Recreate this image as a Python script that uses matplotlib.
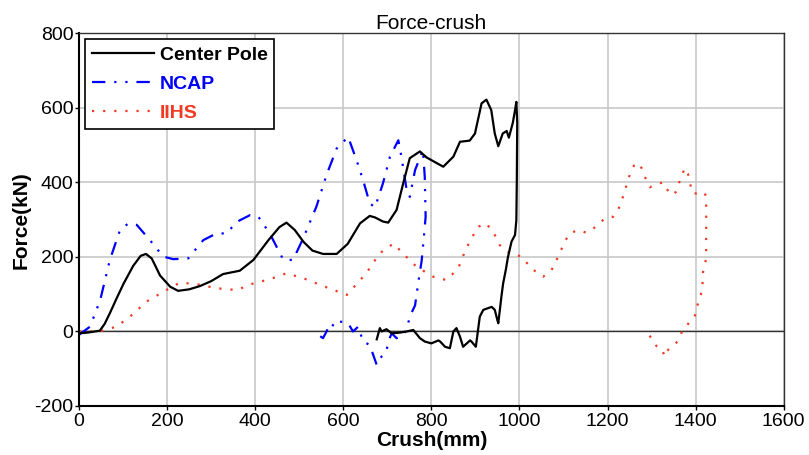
import matplotlib
matplotlib.use("Agg")
import matplotlib.pyplot as plt

plt.rcParams['font.family'] = ['Liberation Sans', 'DejaVu Sans']
plt.rcParams['axes.unicode_minus'] = False

# Center Pole: load path then unloading back down
cp_crush = [0, 20, 47, 58, 70, 85, 101, 123, 140, 152, 165, 184, 207, 225, 250, 275, 300, 327, 365, 396,
            430, 455, 471, 490, 510, 530, 554, 585, 610, 638, 660, 672, 690, 702, 721, 736, 751, 774, 789, 827,
            850, 865, 887, 899, 914, 925, 936, 944, 952, 962, 971, 976, 985, 990, 993, 995, 994, 993, 990, 982,
            974, 969, 963, 959, 952, 950, 944, 937, 918, 910, 905, 901, 891, 888, 872, 865, 857, 850, 842, 831,
            820, 816, 800, 785, 774, 759, 744, 729, 710, 698, 687, 683, 676]
cp_force = [-5, -3, 2, 20, 49, 88, 128, 176, 203, 208, 196, 150, 120, 109, 113, 122, 135, 154, 163, 192,
            245, 280, 292, 272, 240, 217, 208, 208, 235, 290, 310, 306, 295, 292, 326, 397, 465, 483, 467, 442,
            469, 509, 512, 531, 612, 622, 594, 531, 497, 531, 538, 520, 560, 594, 616, 560, 400, 299, 259, 241,
            200, 165, 129, 93, 22, 30, 58, 66, 58, 40, -5, -41, -27, -24, -41, -14, 9, 0, -45, -41,
            -27, -24, -32, -27, -18, 4, 0, -3, -5, 6, 0, 9, -21]

# NCAP
ncap_crush = [0, 25, 48, 70, 93, 112, 131, 161, 191, 214, 248, 282, 312, 335, 358, 388, 407, 433, 464, 486,
              509, 539, 562, 585, 611, 630, 645, 660, 672, 690, 706, 725, 732, 744, 751, 763, 781, 785, 787, 782,
              778, 770, 763, 755, 747, 738, 721, 710, 702, 698, 687, 676, 668, 660, 645, 634, 622, 611, 600, 589,
              581, 570, 562, 554, 543, 532]
ncap_force = [-9, 13, 84, 192, 272, 290, 286, 245, 201, 194, 196, 245, 263, 263, 294, 312, 308, 263, 192, 192,
              250, 335, 420, 491, 522, 460, 406, 344, 333, 397, 469, 513, 469, 379, 361, 433, 487, 415, 308, 240,
              190, 129, 70, 50, 22, -9, -18, -5, -27, -54, -67, -90, -63, -36, -27, 13, 0, 22, 26, 26,
              13, 22, 0, -18, -9, -18]

# IIHS
iihs_crush = [0, 47, 85, 116, 153, 198, 229, 267, 312, 358, 396, 433, 471, 509, 554, 608, 652, 683, 714, 739,
              766, 804, 834, 861, 876, 887, 906, 925, 944, 955, 978, 1005, 1027, 1054, 1073, 1088, 1103, 1114, 1133, 1152,
              1167, 1179, 1194, 1213, 1224, 1232, 1239, 1244, 1251, 1260, 1273, 1280, 1288, 1296, 1311, 1326, 1334, 1345,
              1356, 1361, 1368, 1375, 1383, 1388, 1392, 1402, 1411, 1421, 1424, 1424, 1424, 1424, 1417, 1415, 1408, 1403,
              1398, 1386, 1377, 1368, 1360, 1351, 1335, 1330, 1322, 1311, 1302, 1290]
iihs_force = [0, 0, 13, 40, 80, 111, 131, 127, 116, 111, 129, 140, 156, 143, 122, 98, 156, 210, 236, 205,
              174, 147, 138, 169, 214, 241, 281, 290, 259, 232, 210, 201, 169, 147, 165, 201, 241, 263, 272, 265,
              275, 288, 303, 308, 326, 351, 375, 397, 422, 445, 451, 430, 406, 387, 395, 400, 383, 366,
              375, 395, 415, 438, 422, 395, 372, 370, 370, 372, 357, 308, 245, 196, 160, 111, 86, 65,
              40, 26, 9, -3, -25, -37, -52, -67, -44, -39, -20, -5]

xticks = [0, 200, 400, 600, 800, 1000, 1200, 1400, 1600]
yticks = [-200, 0, 200, 400, 600, 800]

red = '#f03a24'

fig = plt.figure(figsize=(8.09, 4.55), dpi=100)
ax = fig.add_axes([0.0977, 0.1077, 0.871, 0.8191])

ax.grid(True, color='#c8c8c8', lw=1.2)
ax.set_axisbelow(True)
ax.axhline(0, color='#333333', lw=1.0, zorder=1.5)

ax.plot(cp_crush, cp_force, color='black', lw=1.6, label='Center Pole', zorder=3)
ax.plot(ncap_crush, ncap_force, color='blue', lw=1.6, ls=(0, (6, 4, 1, 4, 1, 4)), label='NCAP', zorder=2.5)
ax.plot(iihs_crush, iihs_force, color=red, lw=1.6, ls=(0, (1, 4)), label='IIHS', zorder=2.4)

ax.set_xlim(0, 1600)
ax.set_ylim(-200, 800)
ax.set_xticks(xticks)
ax.set_yticks(yticks)
ax.tick_params(direction='out', length=3, width=1, labelsize=14, top=False, right=False)
ax.tick_params(axis='x', pad=2)
ax.tick_params(axis='y', pad=1)
for s in ['left', 'bottom']:
    ax.spines[s].set_linewidth(1.5)
for s in ['top', 'right']:
    ax.spines[s].set_linewidth(1.0)
    ax.spines[s].set_color('#333333')

ax.set_title('Force-crush', fontsize=15, pad=3)
ax.set_xlabel('Crush(mm)', fontsize=15, fontweight='bold', labelpad=1)
ax.set_ylabel('Force(kN)', fontsize=15, fontweight='bold', labelpad=3)

leg = ax.legend(loc='upper left', fancybox=False, framealpha=1, edgecolor='black',
                prop={'weight': 'bold', 'size': 14}, handlelength=3.2, handletextpad=0.3,
                labelspacing=0.6, borderpad=0.35, borderaxespad=0.3, labelcolor='linecolor')
leg.get_frame().set_linewidth(1.2)

fig.savefig('out.png', dpi=100)
